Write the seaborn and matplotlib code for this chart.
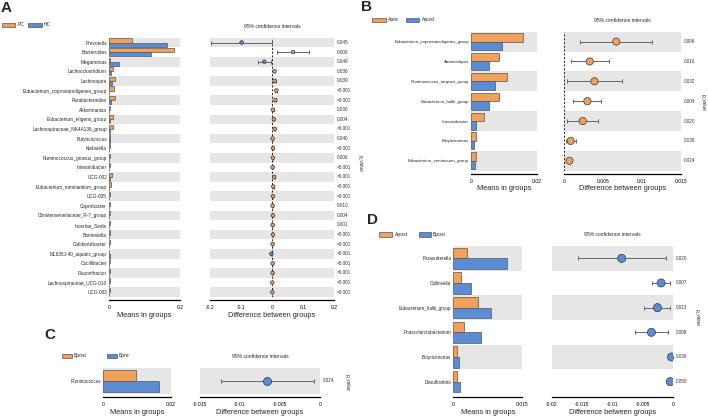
import matplotlib
matplotlib.use('Agg')
import matplotlib.pyplot as plt
import matplotlib.transforms as mtransforms
from matplotlib.patches import Rectangle
import numpy as np
import pandas as pd
import seaborn as sns

W, H = 708, 418
ORANGE = '#F2A15C'
BLUE = '#5B8CD4'
BAND = '#E6E6E6'
EDGE = '#555555'

# ---------------- Panel A : PC vs HC ----------------
taxa_a = ['Prevotella', 'Bacteroides', 'Megamonas', 'Lachnoclostridium', 'Lachnospira',
          'Eubacterium_coprostanoligenes_group', 'Parabacteroides', 'Akkermansia',
          'Eubacterium_eligens_group', 'Lachnospiraceae_NK4A136_group', 'Butyricicoccus',
          'Klebsiella', 'Ruminococcus_gnavus_group', 'Intestinibacter', 'UCG-002',
          'Eubacterium_ruminantium_group', 'UCG-005', 'Coprobacter',
          'Christensenellaceae_R-7_group', 'Incertae_Sedis', 'Barnesiella',
          'Colidextribacter', 'ML635J-40_aquatic_group', 'Oscillibacter',
          'Flavonifractor', 'Lachnospiraceae_UCG-010', 'UCG-003']
groups_a = ['PC', 'HC']
pc_a = [0.065, 0.183, 0.004, 0.012, 0.018, 0.015, 0.016, 0.003, 0.010, 0.012, 0.004,
        0.003, 0.004, 0.003, 0.009, 0.005, 0.004, 0.002, 0.004, 0.002, 0.004, 0.002,
        0.0005, 0.002, 0.002, 0.0015, 0.0015]
hc_a = [0.162, 0.117, 0.029, 0.005, 0.009, 0.001, 0.005, 0.001, 0.004, 0.003, 0.002,
        0.0005, 0.001, 0.001, 0.002, 0.001, 0.001, 0.0003, 0.001, 0.0005, 0.001, 0.0005,
        0.002, 0.0005, 0.0003, 0.0003, 0.0003]
diff_a = [-0.098, 0.068, -0.025, 0.008, 0.009, 0.014, 0.011, 0.003, 0.006, 0.009, 0.002,
          0.003, 0.003, 0.002, 0.007, 0.004, 0.003, 0.002, 0.003, 0.002, 0.003, 0.002,
          -0.002, 0.002, 0.002, 0.001, 0.001]
lo_a = [-0.198, 0.016, -0.046, 0.005, 0.006, 0.011, 0.008, 0.001, 0.004, 0.007, 0.001,
        0.002, 0.002, 0.001, 0.005, 0.003, 0.002, 0.001, 0.002, 0.001, 0.002, 0.001,
        -0.003, 0.001, 0.001, 0.0005, 0.0005]
hi_a = [0.0, 0.118, -0.002, 0.011, 0.012, 0.017, 0.014, 0.005, 0.008, 0.011, 0.003,
        0.004, 0.004, 0.003, 0.009, 0.005, 0.004, 0.003, 0.004, 0.003, 0.004, 0.003,
        -0.001, 0.003, 0.003, 0.0015, 0.0015]
p_a = ['0.045', '0.009', '0.049', '0.036', '0.039', '<0.001', '<0.001', '0.030', '0.004',
       '<0.001', '0.040', '<0.001', '0.006', '<0.001', '<0.001', '<0.001', '<0.001',
       '0.010', '0.004', '0.001', '<0.001', '<0.001', '<0.001', '<0.001', '<0.001',
       '<0.001', '<0.001']

# ---------------- Panel B : Apre vs Apost ----------------
taxa_b = ['Eubacterium_coprostanoligenes_group', 'Anaerostipes', 'Ruminococcus_torques_group',
          'Eubacterium_hallii_group', 'Intestinibacter', 'Butyricimonas',
          'Eubacterium_ventriosum_group']
groups_b = ['Apre', 'Apost']
apre_b = [0.0159, 0.0086, 0.0111, 0.0084, 0.0039, 0.0014, 0.0016]
apost_b = [0.0093, 0.0054, 0.0072, 0.0054, 0.0015, 0.0008, 0.0011]
diff_b = [0.0067, 0.0033, 0.0039, 0.0030, 0.0024, 0.00085, 0.0007]
lo_b = [0.0020, 0.0009, 0.0004, 0.0011, 0.0004, 0.0002, 0.0005]
hi_b = [0.0113, 0.0058, 0.0074, 0.0047, 0.0043, 0.0015, 0.0009]
p_b = ['0.006', '0.010', '0.032', '0.004', '0.020', '0.038', '0.024']

# ---------------- Panel C : Bpost vs Bpre ----------------
taxa_c = ['Ruminococcus']
groups_c = ['Bpost', 'Bpre']
bpost_c = [0.0097]
bpre_c = [0.0165]
diff_c = [-0.0066]
lo_c = [-0.0124]
hi_c = [-0.0008]
p_c = ['0.024']

# ---------------- Panel D : Apost vs Bpost ----------------
taxa_d = ['Parasutterella', 'Collinsella', 'Eubacterium_hallii_group',
          'Phascolarctobacterium', 'Butyricimonas', 'Desulfovibrio']
groups_d = ['Apost', 'Bpost']
apost_d = [0.0030, 0.0016, 0.0054, 0.0023, 0.0007, 0.0007]
bpost_d = [0.0116, 0.0038, 0.0081, 0.0060, 0.0012, 0.0014]
diff_d = [-0.0085, -0.0020, -0.0026, -0.0036, -0.0003, -0.0005]
lo_d = [-0.0156, -0.0035, -0.0048, -0.0063, -0.0005, -0.0007]
hi_d = [-0.0012, -0.0006, -0.0005, -0.0008, -0.0001, -0.0003]
p_d = ['0.020', '0.007', '0.013', '0.008', '0.036', '0.050']

sns.set_theme(style='white')
plt.rcParams['font.family'] = ['Liberation Sans', 'DejaVu Sans']

fig = plt.figure(figsize=(W / 100, H / 100), dpi=100)


def px_axes(left, top, right, bottom):
    """像素坐标 -> figure 坐标"""
    return fig.add_axes([left / W, 1 - bottom / H, (right - left) / W, (bottom - top) / H])


def add_bands(ax, n):
    for i in range(0, n, 2):
        ax.axhspan(i - 0.5, i + 0.5, color=BAND, lw=0, zorder=0)


def style_x(ax, xlim, ticks, labels, xlabel, fs):
    # spine 位置要先设，否则会重置刻度样式
    for s in ['top', 'right', 'left']:
        ax.spines[s].set_visible(False)
    ax.spines['bottom'].set_position(('outward', 2.5))
    ax.spines['bottom'].set_linewidth(0.9)
    ax.spines['bottom'].set_color('black')
    ax.set_xlim(xlim)
    ax.set_xticks(ticks)
    ax.set_xticklabels(labels)
    ax.tick_params(axis='x', length=2, width=0.6, pad=1.5, colors='black', labelsize=3.6)
    ax.set_xlabel(xlabel, fontsize=fs, labelpad=1)


def draw_bars(rect, taxa, groups, v1, v2, xlim, ticks, labels, label_fs, xl_fs):
    ax = px_axes(*rect)
    n = len(taxa)
    df = pd.DataFrame({'taxon': taxa * 2,
                       'group': [groups[0]] * n + [groups[1]] * n,
                       'mean': list(v1) + list(v2)})
    add_bands(ax, n)
    sns.barplot(data=df, x='mean', y='taxon', hue='group', order=taxa, hue_order=groups,
                palette=[ORANGE, BLUE], orient='h', width=0.86, errorbar=None,
                edgecolor=EDGE, linewidth=0.5, saturation=1, legend=False, ax=ax)
    ax.set_ylabel('')
    style_x(ax, xlim, ticks, labels, 'Means in groups', xl_fs)
    ax.set_ylim(n - 0.5, -0.5)
    ax.tick_params(axis='y', length=0, labelsize=label_fs, pad=1.5)
    return ax


def draw_ci(rect, diff, lo, hi, pvals, xlim, ticks, labels, ms, cap, xl_fs, pv_fs):
    ax = px_axes(*rect)
    n = len(diff)
    y = np.arange(n)
    diff = np.array(diff)
    add_bands(ax, n)
    ax.axvline(0, color='black', ls=(0, (2.5, 2)), lw=0.6, zorder=1)
    ax.errorbar(diff, y, xerr=[diff - np.array(lo), np.array(hi) - diff], fmt='none',
                ecolor='#666666', elinewidth=0.7, capsize=cap, capthick=0.7, zorder=2)
    sign = np.where(diff > 0, 'up', 'down')
    sns.scatterplot(x=diff, y=y, hue=sign, palette={'up': ORANGE, 'down': BLUE},
                    s=ms ** 2, edgecolor='#333333', linewidth=0.5, legend=False,
                    zorder=3, ax=ax)
    ax.set_ylabel('')
    style_x(ax, xlim, ticks, labels, 'Difference between groups', xl_fs)
    ax.set_ylim(n - 0.5, -0.5)
    ax.set_yticks([])
    width_px = rect[2] - rect[0]
    trans = mtransforms.blended_transform_factory(ax.transAxes, ax.transData)
    for yi, p in zip(y, pvals):
        ax.text(1 + 2.5 / width_px, yi, p, transform=trans, ha='left', va='center',
                fontsize=pv_fs, color='#333333')
    ax.annotate('95% confidence intervals', xy=(0.5, 1), xycoords='axes fraction',
                xytext=(0, 8), textcoords='offset points', ha='center', va='center',
                fontsize=3.6)
    return ax


def legend_px(items, y0, y1, fs=3.6):
    for (x0, x1, tx, label, col) in items:
        fig.add_artist(Rectangle((x0 / W, 1 - y1 / H), (x1 - x0) / W, (y1 - y0) / H,
                                 transform=fig.transFigure, facecolor=col,
                                 edgecolor=EDGE, linewidth=0.5))
        fig.text(tx / W, 1 - (y0 + y1) / 2 / H, label, fontsize=fs, va='center', ha='left')


def panel_letter(x, y, s):
    fig.text(x / W, 1 - y / H, s, fontsize=11, fontweight='bold', va='center', ha='left')


def p_value_label(x, y):
    fig.text(x / W, 1 - y / H, 'p_value', fontsize=3.4, rotation=270, va='center', ha='center')


# ---- Panel A ----
panel_letter(1, 8, 'A')
legend_px([(2, 15, 18, 'PC', ORANGE), (28, 42, 44, 'HC', BLUE)], 22.7, 26.7)
draw_bars((109, 37.7, 180, 297), taxa_a, groups_a, pc_a, hc_a, (0, 0.2), [0, 0.2],
          ['0', '0.2'], 3.4, 5.3)
draw_ci((210, 37.7, 334, 297), diff_a, lo_a, hi_a, p_a, (-0.2, 0.2),
        [-0.2, -0.1, 0, 0.1, 0.2], ['-0.2', '-0.1', '0', '0.1', '0.2'], 2.6, 1.2, 5.3, 3.4)
p_value_label(360, 163)

# ---- Panel B ----
panel_letter(361, 7, 'B')
legend_px([(372, 386, 388, 'Apre', ORANGE), (406, 419, 422, 'Apost', BLUE)], 17.7, 21.7)
draw_bars((471, 31.7, 536.7, 170.7), taxa_b, groups_b, apre_b, apost_b, (0, 0.02),
          [0, 0.02], ['0', '0.02'], 3.2, 5.3)
draw_ci((564, 31.7, 681, 170.7), diff_b, lo_b, hi_b, p_b, (0, 0.015),
        [0, 0.005, 0.01, 0.015], ['0', '0.005', '0.01', '0.015'], 5.2, 1.5, 5.3, 3.3)
p_value_label(703, 102)

# ---- Panel C ----
panel_letter(44, 335, 'C')
legend_px([(62, 72, 74, 'Bpost', ORANGE), (107, 117, 119, 'Bpre', BLUE)], 353.7, 357.7)
draw_bars((103.3, 368, 171, 394), taxa_c, groups_c, bpost_c, bpre_c, (0, 0.02),
          [0, 0.02], ['0', '0.02'], 3.3, 5.3)
draw_ci((200, 368, 320, 394), diff_c, lo_c, hi_c, p_c, (-0.015, 0),
        [-0.015, -0.01, -0.005, 0], ['-0.015', '-0.01', '-0.005', '0'], 5.8, 1.5, 5.3, 3.3)
p_value_label(347, 382)

# ---- Panel D ----
panel_letter(367, 220, 'D')
legend_px([(379, 392, 394.5, 'Apost', ORANGE), (419, 431, 433, 'Bpost', BLUE)], 232, 236.7)
draw_bars((453.3, 246, 522.3, 394), taxa_d, groups_d, apost_d, bpost_d, (0, 0.015),
          [0, 0.015], ['0', '0.015'], 3.3, 5.3)
draw_ci((551.7, 246, 673.3, 394), diff_d, lo_d, hi_d, p_d, (-0.02, 0),
        [-0.02, -0.015, -0.01, -0.005, 0], ['-0.02', '-0.015', '-0.01', '-0.005', '0'],
        5.8, 1.5, 5.3, 3.3)
p_value_label(697, 317)

fig.savefig('out.png', dpi=100)
plt.close(fig)
